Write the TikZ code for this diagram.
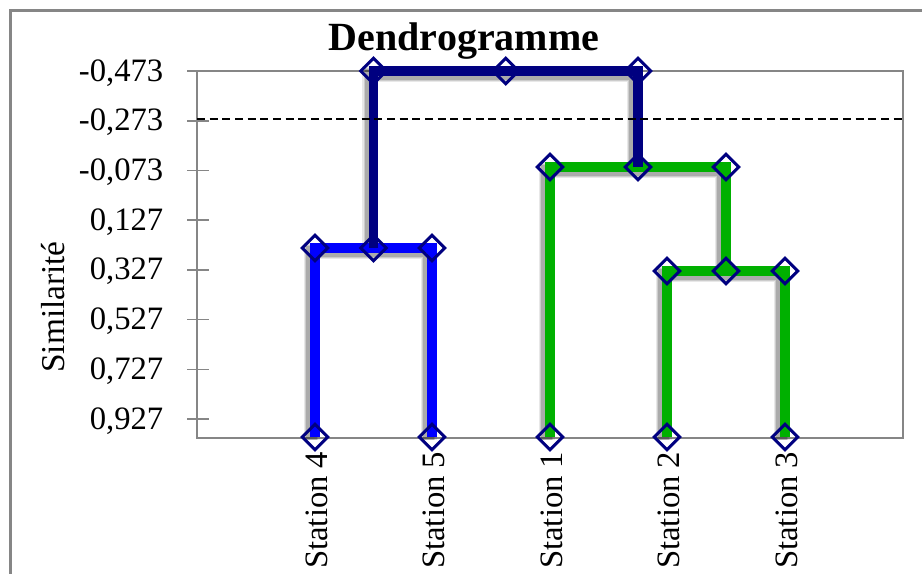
\documentclass[tikz,border=0pt]{standalone}
\usepackage{fontspec}
\setmainfont{Liberation Serif}
\usetikzlibrary{shapes.geometric,backgrounds}
\definecolor{navyline}{RGB}{0,0,128}
\definecolor{blueline}{RGB}{0,0,255}
\definecolor{greenline}{RGB}{0,176,0}
\definecolor{axisgray}{RGB}{134,134,134}

\begin{document}
\begin{tikzpicture}[x=0.75pt,y=-0.75pt,
  axis/.style={draw=axisgray,line width=1.2pt},
  branch/.style={line width=7pt,line join=miter,line cap=butt},
  haze/.style={draw=black,line join=miter,line cap=butt,
    transform canvas={xshift=-2.5pt,yshift=-2.5pt}},
  mk/.style={diamond,draw=navyline,line width=2.2pt,minimum width=20pt,
    minimum height=20pt,inner sep=0pt},
  ticklab/.style={anchor=base east,font=\fontsize{24.5}{26}\selectfont},
  stlab/.style={rotate=90,anchor=base east,font=\fontsize{24.5}{26}\selectfont},
]
\useasboundingbox (0,0) rectangle (922,574);

% markers: leaves
\node[mk] (l4) at (315,437) {};
\node[mk] (l5) at (432,437) {};
\node[mk] (l1) at (550,437) {};
\node[mk] (l2) at (667,437) {};
\node[mk] (l3) at (785,437) {};
% markers: merge levels
\node[mk] (b4) at (315,248) {};
\node[mk] (bm) at (373.5,248) {};
\node[mk] (b5) at (432,248) {};
\node[mk] (c2) at (667,271) {};
\node[mk] (cm) at (726,271) {};
\node[mk] (c3) at (785,271) {};
\node[mk] (g1) at (550,167) {};
\node[mk] (gm) at (638,167) {};
\node[mk] (gr) at (726,167) {};
\node[mk] (t4) at (373.5,71) {};
\node[mk] (tm) at (505.75,71) {};
\node[mk] (t1) at (638,71) {};

\begin{scope}[on background layer]
  % chart frame
  \draw[axisgray,line width=2.2pt] (10.5,574) -- (10.5,10.5) -- (922,10.5);
  % plot area and ticks
  \draw[axis] (197,71) rectangle (903,438);
  \foreach \yy in {71.3,121,170.6,220.3,270,319.6,369.3,419}
    \draw[axis] (187,\yy) -- (209,\yy);
  % soft shadows of the branches
  \foreach \w/\o in {12pt/0.09,10pt/0.12,8pt/0.16} {
    \draw[haze,line width=\w,opacity=\o] (l4.center) -- (b4.center) -- (b5.center) -- (l5.center);
    \draw[haze,line width=\w,opacity=\o] (l2.center) -- (c2.center) -- (c3.center) -- (l3.center);
    \draw[haze,line width=\w,opacity=\o] (l1.center) -- (g1.center) -- (gr.center) -- (cm.center);
    \draw[haze,line width=\w,opacity=\o] (bm.center) -- (t4.center) -- (t1.center) -- (gm.center);
  }
  % branches
  \draw[branch,blueline] (l4.center) -- (b4.center) -- (b5.center) -- (l5.center);
  \draw[branch,greenline] (l2.center) -- (c2.center) -- (c3.center) -- (l3.center);
  \draw[branch,greenline] (l1.center) -- (g1.center) -- (gr.center) -- (cm.center);
  \draw[branch,navyline] (bm.center) -- (t4.center) -- (t1.center) -- (gm.center);
\end{scope}

% cut level
\draw[black,line width=2pt,dash pattern=on 6pt off 3.5pt] (197,119) -- (903,119);

% title and axis texts
\node[anchor=base,font=\bfseries\fontsize{30}{32}\selectfont] (title) at (464,50.5) {Dendrogramme};
\node[rotate=90,anchor=base,font=\fontsize{25}{27}\selectfont] (ylab) at (64,307) {Similarité};

\node[ticklab] (y1) at (168,81.3) {-0,473};
\node[ticklab] (y2) at (168,131) {-0,273};
\node[ticklab] (y3) at (168,180.6) {-0,073};
\node[ticklab] (y4) at (168,230.3) {0,127};
\node[ticklab] (y5) at (168,280) {0,327};
\node[ticklab] (y6) at (168,329.6) {0,527};
\node[ticklab] (y7) at (168,379.3) {0,727};
\node[ticklab] (y8) at (168,429) {0,927};

\node[stlab] (s4) at (327,447) {Station 4};
\node[stlab] (s5) at (444,447) {Station 5};
\node[stlab] (s1) at (562,447) {Station 1};
\node[stlab] (s2) at (679,447) {Station 2};
\node[stlab] (s3) at (797,447) {Station 3};
\end{tikzpicture}
\end{document}
